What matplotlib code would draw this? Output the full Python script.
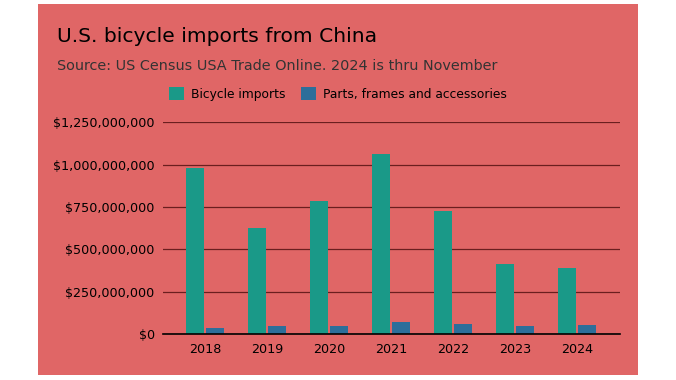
import matplotlib
matplotlib.use("Agg")
import matplotlib.pyplot as plt
import numpy as np
from matplotlib.patches import Rectangle, Patch
from matplotlib.ticker import FuncFormatter

# values
years = ["2018", "2019", "2020", "2021", "2022", "2023", "2024"]
bicycles = [983e6, 625e6, 784e6, 1065e6, 725e6, 413e6, 387e6]
parts = [34e6, 47e6, 47e6, 71e6, 59e6, 47e6, 53e6]
y_ticks = [0, 250e6, 500e6, 750e6, 1000e6, 1250e6]

W, H = 676, 380
panel = "#e06666"
green = "#1a9988"
blue = "#2d6e9a"

fig = plt.figure(figsize=(W / 100, H / 100), dpi=100)
fig.patch.set_facecolor("white")
fig.patches.append(Rectangle((38 / W, 1 - 375 / H), 600 / W, 371 / H,
                             transform=fig.transFigure, facecolor=panel,
                             edgecolor="none", zorder=-1))

ax = fig.add_axes([163 / W, 1 - 334 / H, 456.5 / W, 211.7 / H])
ax.set_facecolor("none")

x = np.arange(len(years))
w = 0.29
ax.bar(x - 0.16, bicycles, w, color=green, zorder=3)
ax.bar(x + 0.16, parts, w, color=blue, zorder=3)

ax.set_xlim(-0.68, len(years) - 1 + 0.68)
ax.set_ylim(0, 1250e6)
ax.set_yticks(y_ticks)
ax.yaxis.set_major_formatter(FuncFormatter(lambda v, p: "${:,.0f}".format(v)))
ax.set_xticks(x)
ax.set_xticklabels(years)
ax.tick_params(axis="both", length=0, labelsize=9.2, colors="black")
ax.tick_params(axis="y", pad=6)
ax.tick_params(axis="x", pad=6.5)

ax.grid(axis="y", color="#6a1f1f", linewidth=0.9, zorder=1)
for s in ["top", "right", "left"]:
    ax.spines[s].set_visible(False)
ax.spines["bottom"].set_color("black")
ax.spines["bottom"].set_linewidth(1.2)
ax.spines["bottom"].set_zorder(4)

fig.text(57 / W, 1 - 37 / H, "U.S. bicycle imports from China", fontsize=14.6,
         color="black", va="center", ha="left")
fig.text(57 / W, 1 - 66 / H, "Source: US Census USA Trade Online. 2024 is thru November",
         fontsize=10.4, color="#333333", va="center", ha="left")

handles = [Patch(facecolor=green, label="Bicycle imports"),
           Patch(facecolor=blue, label="Parts, frames and accessories")]
fig.legend(handles=handles, loc="center", bbox_to_anchor=(338 / W, 1 - 94 / H),
           ncol=2, frameon=False, fontsize=8.8, handlelength=1.2, handleheight=1.2,
           handletextpad=0.6, columnspacing=1.3)

fig.savefig("out.png", dpi=100, facecolor=fig.get_facecolor())
